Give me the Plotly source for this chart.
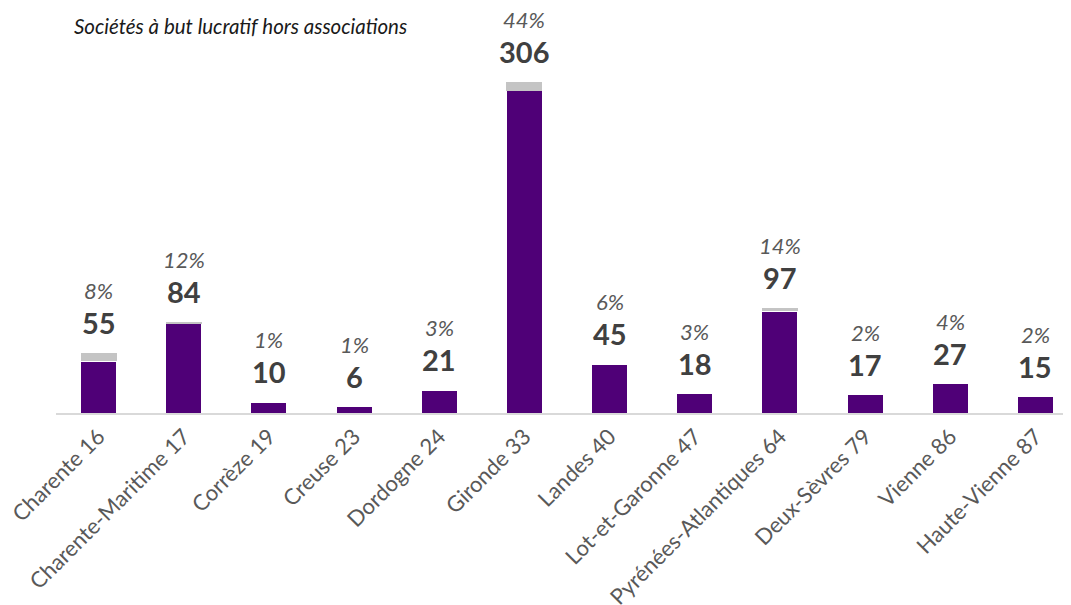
import plotly.graph_objects as go

categories = ["Charente 16", "Charente-Maritime 17", "Corrèze 19", "Creuse 23", "Dordogne 24",
              "Gironde 33", "Landes 40", "Lot-et-Garonne 47", "Pyrénées-Atlantiques 64",
              "Deux-Sèvres 79", "Vienne 86", "Haute-Vienne 87"]
main_values = [48, 83, 10, 6, 21, 298, 45, 18, 94, 17, 27, 15]
other_values = [7, 1, 0, 0, 0, 8, 0, 0, 3, 0, 0, 0]
totals = [55, 84, 10, 6, 21, 306, 45, 18, 97, 17, 27, 15]
shares = ["8%", "12%", "1%", "1%", "3%", "44%", "6%", "3%", "14%", "2%", "4%", "2%"]

FONT = "Lato"
W, H = 1071, 605
L, R, T, B = 48, 1, 0, 200
scale = 1.082
ymax = (H - B - T) / scale

fig = go.Figure()
fig.add_trace(go.Bar(x=categories, y=main_values,
                     marker=dict(color="#4f0077", line=dict(color="#ffffff", width=1)),
                     width=0.423, showlegend=False))
fig.add_trace(go.Bar(x=categories, y=other_values,
                     marker=dict(color="#c4c4c4", line=dict(width=0)),
                     width=0.423, showlegend=False))

for c, t, s in zip(categories, totals, shares):
    fig.add_annotation(x=c, y=t, text=f"<b>{t}</b>", showarrow=False, yanchor="bottom", yshift=11,
                       font=dict(family=FONT, size=29, color="#404040"))
    fig.add_annotation(x=c, y=t, text=f"<i>{s}</i>", showarrow=False, yanchor="bottom", yshift=47,
                       font=dict(family=FONT, size=22, color="#595959"))

fig.add_annotation(x=(64 - L) / (W - L - R), y=1 - 18 / (H - B - T), xref="paper", yref="paper",
                   xanchor="left", yanchor="middle", showarrow=False,
                   text="<i>Sociétés à but lucratif hors associations</i>",
                   font=dict(family=FONT, size=20.5, color="#1a1a1a"))

fig.update_layout(
    barmode="stack", width=W, height=H,
    margin=dict(l=L, r=R, t=T, b=B),
    plot_bgcolor="white", paper_bgcolor="white",
    font=dict(family=FONT),
    xaxis=dict(tickangle=-45, tickfont=dict(family=FONT, size=22, color="#595959"),
               showline=True, linecolor="#d9d9d9", linewidth=2, ticks="", showgrid=False,
               automargin=False, range=[-0.5, 11.5]),
    yaxis=dict(range=[0, ymax], visible=False, showgrid=False, automargin=False),
)
fig.write_html("out.html")
